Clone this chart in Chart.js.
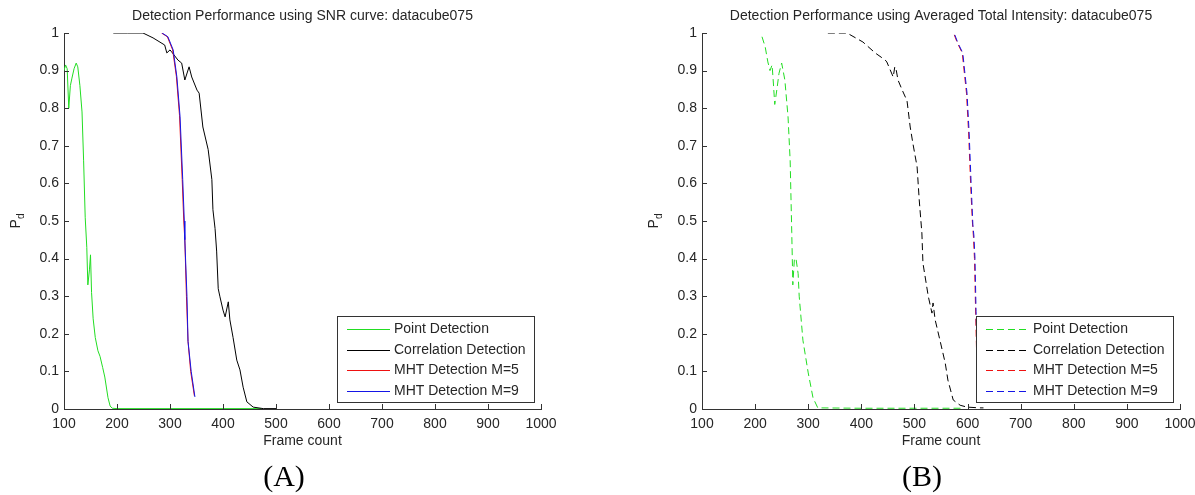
<!DOCTYPE html>
<html>
<head>
<meta charset="utf-8">
<script src="https://cdn.jsdelivr.net/npm/chart.js@4/dist/chart.umd.min.js"></script>
<style>
  body { margin: 0; background: #fff; }
  #wrap { position: relative; width: 1195px; height: 495px; overflow: hidden; }
  canvas { position: absolute; top: 0; }
  #chartA { left: 0; }
  #chartB { left: 598px; }
  .caption { position: absolute; top: 459px; width: 80px; text-align: center; font: 30px "Liberation Serif", "Times New Roman", serif; color: #000; }
</style>
</head>
<body>
<div id="wrap">
  <canvas id="chartA" width="597" height="460"></canvas>
  <canvas id="chartB" width="620" height="460"></canvas>
  <div class="caption" style="left:244px">(A)</div>
  <div class="caption" style="left:882px">(B)</div>
</div>
<script>
// ---- data ----
const titleA = 'Detection Performance using SNR curve: datacube075'
const titleB = 'Detection Performance using Averaged Total Intensity: datacube075'
const seriesLabels = ['Point Detection', 'Correlation Detection', 'MHT Detection M=5', 'MHT Detection M=9']
const xTicks = [100, 200, 300, 400, 500, 600, 700, 800, 900, 1000]
const yTicks = [0, 0.1, 0.2, 0.3, 0.4, 0.5, 0.6, 0.7, 0.8, 0.9, 1]

// (A) SNR curve
const pointAX = [100, 103, 106, 109, 112, 115, 119, 123, 126, 130, 134, 137, 140, 143, 145, 148, 150, 152, 155, 159, 164, 168, 173, 177, 183, 187, 191, 200, 300, 400, 472]
const pointAY = [0.90, 0.915, 0.905, 0.80, 0.86, 0.88, 0.905, 0.92, 0.91, 0.86, 0.79, 0.66, 0.51, 0.43, 0.33, 0.37, 0.41, 0.31, 0.24, 0.19, 0.155, 0.14, 0.11, 0.085, 0.03, 0.008, 0.002, 0.001, 0.001, 0.001, 0.001]
const corrAX = [193, 220, 249, 268, 290, 294, 300, 303, 315, 322, 328, 336, 341, 351, 355, 362, 372, 379, 381, 385, 388, 391, 394, 400, 404, 410, 413, 419, 426, 432, 438, 445, 457, 476, 500]
const corrAY = [1.0, 1.0, 1.0, 0.987, 0.968, 0.947, 0.955, 0.95, 0.928, 0.92, 0.875, 0.91, 0.883, 0.848, 0.84, 0.75, 0.69, 0.61, 0.53, 0.48, 0.42, 0.32, 0.30, 0.263, 0.245, 0.285, 0.237, 0.19, 0.13, 0.104, 0.058, 0.019, 0.005, 0.001, 0.001]
const mht5AX = [284, 295, 305, 312, 318, 323, 326, 328, 331, 334, 339, 346]
const mht5AY = [1.0, 0.99, 0.955, 0.885, 0.78, 0.61, 0.50, 0.45, 0.30, 0.18, 0.10, 0.035]
const mht9AX = [285, 296, 306, 313, 319, 324, 327, 328, 332, 334, 340, 347]
const mht9AY = [1.0, 0.99, 0.955, 0.883, 0.777, 0.61, 0.50, 0.45, 0.30, 0.18, 0.10, 0.032]

// (B) averaged total intensity
const pointBX = [213, 219, 224, 228, 232, 234, 237, 241, 245, 250, 256, 262, 266, 269, 271, 274, 277, 281, 283, 290, 300, 309, 318, 400, 500, 590]
const pointBY = [0.99, 0.963, 0.923, 0.90, 0.915, 0.875, 0.81, 0.85, 0.893, 0.92, 0.875, 0.777, 0.66, 0.47, 0.33, 0.40, 0.40, 0.36, 0.30, 0.183, 0.096, 0.03, 0.003, 0.002, 0.002, 0.002]
const corrBX = [337, 373, 403, 426, 445, 448, 460, 463, 465, 469, 477, 486, 492, 497, 505, 509, 514, 516, 526, 533, 535, 539, 548, 558, 563, 573, 586, 599, 623, 630]
const corrBY = [1.0, 1.0, 0.976, 0.947, 0.928, 0.923, 0.883, 0.91, 0.907, 0.875, 0.848, 0.82, 0.75, 0.707, 0.644, 0.556, 0.468, 0.388, 0.30, 0.255, 0.282, 0.237, 0.183, 0.122, 0.077, 0.024, 0.01, 0.005, 0.003, 0.003]
const mht5BX = [575, 581, 590, 594, 598, 602, 606, 609, 611, 613, 615, 617, 619]
const mht5BY = [0.995, 0.973, 0.947, 0.893, 0.84, 0.734, 0.59, 0.50, 0.46, 0.40, 0.27, 0.15, 0.03]
const mht9BX = [576, 582, 591, 595, 599, 603, 607, 610, 612, 614, 616, 618, 620]
const mht9BY = [0.995, 0.973, 0.947, 0.893, 0.84, 0.734, 0.59, 0.49, 0.46, 0.40, 0.26, 0.15, 0.03]

const colors = ['#22dd22', '#000000', '#ee1111', '#1515e6']

Chart.defaults.font.family = '"Liberation Sans", Arial, sans-serif'
Chart.defaults.font.size = 14
Chart.defaults.color = '#262626'

const toPoints = (xs, ys) => xs.map((x, i) => ({ x, y: ys[i] }))

// legend box drawn inside the plot, bottom right, like matlab
const boxLegend = {
  id: 'boxLegend',
  afterDatasetsDraw (chart) {
    const { ctx, chartArea } = chart
    const w = 198
    const h = 87
    const x0 = chartArea.right - 6 - w
    const y0 = chartArea.bottom - 6 - h
    ctx.save()
    ctx.fillStyle = '#fff'
    ctx.fillRect(x0, y0, w, h)
    ctx.strokeStyle = '#333'
    ctx.lineWidth = 1
    ctx.strokeRect(x0 + 0.5, y0 + 0.5, w - 1, h - 1)
    ctx.font = '14px "Liberation Sans", Arial, sans-serif'
    ctx.textBaseline = 'middle'
    chart.data.datasets.forEach((ds, i) => {
      const y = Math.round(y0 + 13 + i * 20.7) + 0.5
      ctx.strokeStyle = ds.borderColor
      ctx.setLineDash(ds.borderDash || [])
      ctx.beginPath()
      ctx.moveTo(x0 + 10, y)
      ctx.lineTo(x0 + 53, y)
      ctx.stroke()
      ctx.setLineDash([])
      ctx.fillStyle = '#262626'
      ctx.fillText(ds.label, x0 + 57, y)
    })
    ctx.restore()
  }
}

// inward tick marks and the P_d axis label
const innerTicks = {
  id: 'innerTicks',
  afterDraw (chart) {
    const { ctx, chartArea, scales } = chart
    ctx.save()
    ctx.strokeStyle = '#333'
    ctx.lineWidth = 1
    ctx.beginPath()
    scales.x.ticks.forEach(t => {
      const px = Math.round(scales.x.getPixelForValue(t.value)) + 0.5
      ctx.moveTo(px, chartArea.bottom)
      ctx.lineTo(px, chartArea.bottom - 5)
    })
    scales.y.ticks.forEach(t => {
      const py = Math.round(scales.y.getPixelForValue(t.value)) + 0.5
      ctx.moveTo(chartArea.left, py)
      ctx.lineTo(chartArea.left + 5, py)
    })
    ctx.stroke()

    ctx.translate(chartArea.left - 48, (chartArea.top + chartArea.bottom) / 2)
    ctx.rotate(-Math.PI / 2)
    ctx.fillStyle = '#262626'
    ctx.textBaseline = 'middle'
    ctx.font = '14px "Liberation Sans", Arial, sans-serif'
    const wp = ctx.measureText('P').width
    ctx.font = '10px "Liberation Sans", Arial, sans-serif'
    const wd = ctx.measureText('d').width
    const start = -(wp + wd) / 2
    ctx.font = '14px "Liberation Sans", Arial, sans-serif'
    ctx.fillText('P', start, 0)
    ctx.font = '10px "Liberation Sans", Arial, sans-serif'
    ctx.fillText('d', start + wp, 5)
    ctx.restore()
  }
}

function buildDatasets (series, dash) {
  return series.map((s, i) => ({
    label: seriesLabels[i],
    data: toPoints(s[0], s[1]),
    borderColor: colors[i],
    borderWidth: 1,
    borderDash: dash,
    pointRadius: 0,
    tension: 0,
    fill: false,
    order: 3 - i
  }))
}

function makeChart (elementId, title, datasets, padRight, yWidth) {
  return new Chart(document.getElementById(elementId), {
    type: 'line',
    data: { datasets },
    plugins: [boxLegend, innerTicks],
    options: {
      responsive: false,
      animation: false,
      devicePixelRatio: 1,
      layout: { padding: { left: 0, right: padRight, top: 0, bottom: 0 } },
      plugins: {
        legend: { display: false },
        tooltip: { enabled: false },
        title: {
          display: true,
          fullSize: false,
          text: title,
          font: { size: 14, weight: 'normal' },
          color: '#262626',
          padding: { top: 7.6, bottom: 8.6 }
        }
      },
      scales: {
        x: {
          type: 'linear',
          min: 100,
          max: 1000,
          afterBuildTicks: axis => { axis.ticks = xTicks.map(v => ({ value: v })) },
          afterFit: axis => { axis.height = 51 },
          grid: { display: false, drawTicks: false },
          border: { display: true, color: '#333' },
          ticks: { padding: 7, maxRotation: 0, autoSkip: false, color: '#262626', callback: v => String(v) },
          title: { display: true, text: 'Frame count', color: '#262626', font: { size: 14 }, padding: { top: 0, bottom: 10.6 } }
        },
        y: {
          type: 'linear',
          min: 0,
          max: 1,
          afterBuildTicks: axis => { axis.ticks = yTicks.map(v => ({ value: v })) },
          afterFit: axis => { axis.width = yWidth },
          grid: { display: false, drawTicks: false },
          border: { display: true, color: '#333' },
          ticks: { padding: 5, autoSkip: false, color: '#262626', callback: v => String(v) }
        }
      }
    }
  })
}

const chartA = makeChart('chartA', titleA, buildDatasets([
  [pointAX, pointAY], [corrAX, corrAY], [mht5AX, mht5AY], [mht9AX, mht9AY]
], []), 56, 64)

const chartB = makeChart('chartB', titleB, buildDatasets([
  [pointBX, pointBY], [corrBX, corrBY], [mht5BX, mht5BY], [mht9BX, mht9BY]
], [7, 4]), 38, 104)
</script>
</body>
</html>
